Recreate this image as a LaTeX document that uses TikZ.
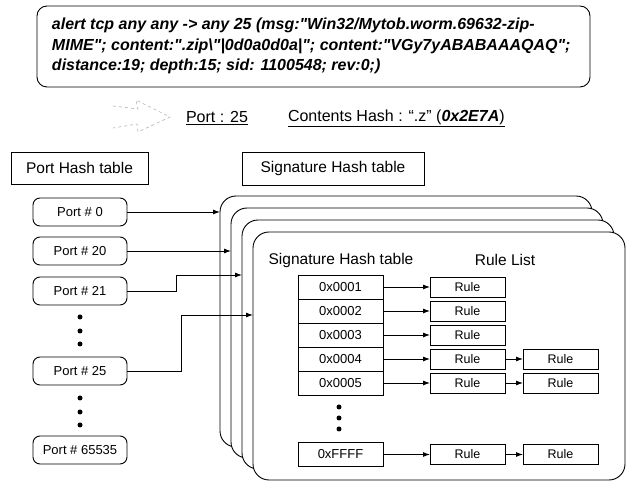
\documentclass[tikz,border=0pt]{standalone}
\usepackage{fontspec}
\setmainfont{Liberation Sans}[Ligatures=TeXOff]
\usetikzlibrary{arrows.meta}
\begin{document}
\begin{tikzpicture}[x=1pt,y=-1pt,
  every node/.style={inner sep=0pt, outer sep=0pt},
  box/.style={draw, line width=0.9pt, fill=white},
  portbox/.style={box, rounded corners=7pt, minimum width=94pt, minimum height=28pt, font=\fontsize{13}{15}\selectfont},
  cell/.style={box, minimum width=85pt, minimum height=24pt, font=\fontsize{13}{15}\selectfont},
  rulebox/.style={box, minimum width=75pt, minimum height=20pt, font=\fontsize{12.5}{14}\selectfont},
  layer/.style={draw, line width=0.9pt, fill=white, rounded corners=16pt, anchor=north west, minimum width=372pt},
  arr/.style={line width=0.9pt, -{Latex[length=7pt,width=5pt]}},
  dot/.style={circle, fill=black, minimum size=5pt},
  title/.style={font=\fontsize{15.5}{18}\selectfont},
  faded/.style={draw=gray!60, dashed, line width=0.6pt}
]
\useasboundingbox (0,0) rectangle (630,486);
\fill[white] (0,0) rectangle (630,486);

% snort rule box
\node[draw, line width=0.9pt, rounded corners=10pt, anchor=north west, minimum width=553pt, minimum height=81pt] (sigbox) at (37,6) {};
\node[anchor=west, align=left, font=\fontsize{16}{20.5}\selectfont\bfseries\itshape] (sigtext) at (52,46)
 {alert tcp any any -> any 25 (msg:"Win32/Mytob.worm.69632-zip-\\
  MIME"; content:".zip\textbackslash"|0d0a0d0a|"; content:"VGy7yABABAAAQAQ";\\
  distance:19; depth:15; sid: 1100548; rev:0;)};

% faded block arrow
\draw[faded] (113,106) -- (138,109) -- (136,100) -- (170,117) -- (138,132) -- (137,124) -- (113,128);

\node[anchor=west, font=\fontsize{16}{18}\selectfont] (portlbl) at (186,118) {\underline{Port : 25}};
\node[anchor=west, font=\fontsize{16}{18}\selectfont] (hashlbl) at (288,118) {\underline{Contents Hash : “.z” (\textbf{\textit{0x2E7A}})}};

% headings
\node[box, title, minimum width=137pt, minimum height=32pt] (pht) at (79.5,168) {Port Hash table};
\node[box, title, minimum width=182pt, minimum height=33pt] (sht) at (333,168.5) {Signature Hash table};

% ports
\node[portbox] (p0) at (80,212) {Port \# 0};
\node[portbox] (p20) at (80,251) {Port \# 20};
\node[portbox] (p21) at (80,291) {Port \# 21};
\node[portbox] (p25) at (80,371) {Port \# 25};
\node[portbox] (p65535) at (80,450) {Port \# 65535};
\foreach \y/\n in {317/a,331/b,344/c,398/d,412/e,425/f}
  \node[dot] (pd\n) at (80,\y) {};

% stacked layers
\foreach \i in {0,1,2,3}
  \node[layer, minimum height={(251-\i)*1pt}] (L\i) at ({220+11*\i},{196+12*\i}) {};

% port arrows
\coordinate (t21) at (242,275);
\coordinate (t25) at (253,315);
\draw[arr] (p0.east) -- (L0.west |- p0.east);
\draw[arr] (p20.east) -- (L1.west |- p20.east);
\draw[arr] (p21.east) -- ++(49,0) |- (t21);
\draw[arr] (p25.east) -- ++(54,0) |- (t25);

% inner content
\node[title] (ist) at (341,260) {Signature Hash table};
\node[title] (rl) at (505,260) {Rule List};

\node[cell] (c1) at (340.5,287) {0x0001};
\node[cell] (c2) at (340.5,311) {0x0002};
\node[cell] (c3) at (340.5,335) {0x0003};
\node[cell] (c4) at (340.5,359) {0x0004};
\node[cell] (c5) at (340.5,383) {0x0005};
\node[cell] (cF) at (340.5,454.5) {0xFFFF};
\foreach \y/\n in {407/a,418/b,429/c}
  \node[dot] (cd\n) at (339,\y) {};

\foreach \n in {1,2,3,4,5,F}{
  \node[rulebox] (r\n) at (467.5,0 |- c\n) {Rule};
  \draw[arr] (c\n.east) -- (r\n.west);
}
\foreach \n in {4,5,F}{
  \node[rulebox] (s\n) at (560.5,0 |- c\n) {Rule};
  \draw[arr] (r\n.east) -- (s\n.west);
}
\end{tikzpicture}
\end{document}
